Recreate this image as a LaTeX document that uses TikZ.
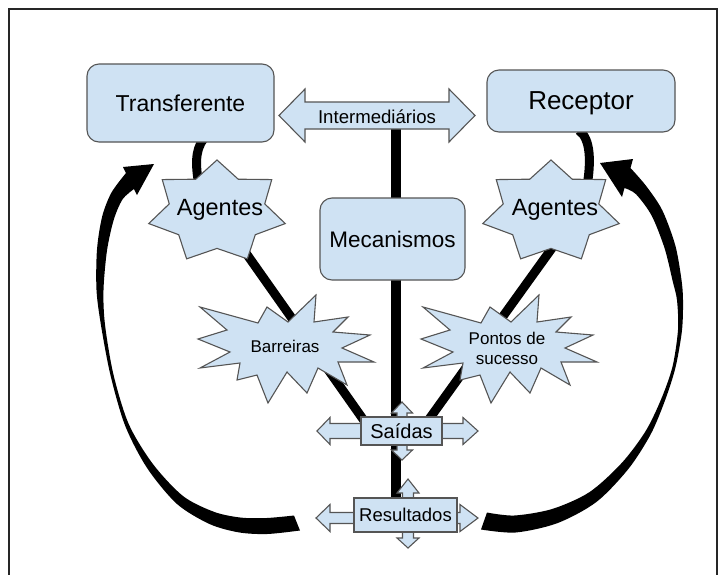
\documentclass[tikz,border=0pt]{standalone}
\usepackage{fontspec}
\setmainfont{Liberation Sans}
\usetikzlibrary{calc}
\pgfdeclarelayer{background}
\pgfsetlayers{background,main}
\definecolor{boxfill}{HTML}{CFE2F3}
\definecolor{boxline}{HTML}{555555}
\newcommand\fsz[1]{\fontsize{#1}{#1}\selectfont}
\begin{document}
\begin{tikzpicture}[x=1pt,y=-1pt,
  shapeline/.style={draw=boxline,line width=1.1pt,fill=boxfill,line join=miter},
  roundbox/.style={shapeline,rectangle,rounded corners=12pt,inner sep=0pt,text depth=0pt},
  flatbox/.style={shapeline,rectangle,inner sep=0pt,text depth=0pt},
  txt/.style={inner sep=0pt,text=black,text depth=0pt},
  txtml/.style={inner sep=0pt,text=black,align=center},
  bar/.style={line width=9pt,draw=black},
  band/.style={fill=black},
  agentstar/.pic={\draw[shapeline] (0,-52) -- (21.26,-32.8) -- (54.73,-32.42) -- (47.77,-8.1) -- (68.24,11.57) -- (38.31,22.7) -- (30.37,46.85) -- (0,36.4) -- (-30.37,46.85) -- (-38.31,22.7) -- (-68.24,11.57) -- (-47.77,-8.1) -- (-54.73,-32.42) -- (-21.26,-32.8) -- cycle;},
  burst/.pic={\draw[shapeline] (-85,-41) -- (-27,-25) -- (-18,-41) -- (3,-26) -- (31,-53) -- (29,-26) -- (63,-31) -- (48,-16) -- (85,-13) -- (57,0) -- (89,14) -- (53,14) -- (62,37) -- (33,20) -- (22,45) -- (2,24) -- (-17,55) -- (-28,27) -- (-48,32) -- (-45,15) -- (-85,20) -- (-55,4) -- (-87,-9) -- (-58,-18) -- cycle;},
]
\useasboundingbox (0,0) rectangle (724,574);
% frame
\draw[line width=1.4pt,black!85] (9,576) -- (9,9) -- (717,9) -- (717,576);

% rounded boxes
\node[roundbox,minimum width=187pt,minimum height=78pt,font=\fsz{23}] (trans) at (180.5,103) {Transferente};
\node[roundbox,minimum width=188pt,minimum height=62pt,font=\fsz{26}] (rec) at (581,101) {Receptor};
\node[roundbox,minimum width=145pt,minimum height=82pt,font=\fsz{22.5}] (mec) at (392.5,239) {Mecanismos};

% double block arrow
\draw[shapeline,shift={(377,115.5)}] (-98,0) -- (-72,-26.5) -- (-72,-13.5) -- (72,-13.5) -- (72,-26.5) -- (98,0) -- (72,26.5) -- (72,13.5) -- (-72,13.5) -- (-72,26.5) -- cycle;
\node[txt,font=\fsz{18.6}] (inter) at (377,117) {Intermediários};

% stars
\pic at (217,212) {agentstar};
\node[txt,font=\fsz{23.5}] (agL) at (220,207) {Agentes};
\pic at (551,212) {agentstar};
\node[txt,font=\fsz{23.5}] (agR) at (555,207) {Agentes};

% bursts
\pic at (285,348) {burst};
\node[txt,font=\fsz{17}] (barr) at (285,346) {Barreiras};
\pic at (508,348) {burst};
\node[txtml,font=\fsz{17}] (pont) at (507,348) {Pontos de\\[3pt]sucesso};

% four-way arrows with boxes
\draw[shapeline,shift={(402,431)}] (-85,0) -- (-72,-13.5) -- (-72,-7.5) -- (-5,-7.5) -- (-5,-18) -- (-10.5,-18) -- (0,-29) -- (10.5,-18) -- (5,-18) -- (5,-7.5) -- (61,-7.5) -- (61,-13.5) -- (76,0) -- (61,13.5) -- (61,7.5) -- (5,7.5) -- (5,19) -- (10.5,19) -- (0,29) -- (-10.5,19) -- (-5,19) -- (-5,7.5) -- (-72,7.5) -- (-72,13.5) -- cycle;
\node[flatbox,minimum width=81pt,minimum height=28pt,font=\fsz{20}] (sai) at (401.5,431) {Saídas};

\draw[shapeline,shift={(408,518)}] (-92,0) -- (-78,-13.5) -- (-78,-5.5) -- (-5.5,-5.5) -- (-5.5,-25) -- (-11,-25) -- (0,-39) -- (11,-25) -- (5.5,-25) -- (5.5,-5.5) -- (52,-5.5) -- (52,-13.5) -- (70,0) -- (52,13.5) -- (52,5.5) -- (5.5,5.5) -- (5.5,20) -- (11,20) -- (0,30) -- (-11,20) -- (-5.5,20) -- (-5.5,5.5) -- (-78,5.5) -- (-78,13.5) -- cycle;
\node[flatbox,minimum width=103pt,minimum height=34pt,font=\fsz{18.5}] (res) at (405.5,515) {Resultados};

% feedback arrows: tapered bands with a head
\fill[band] plot[smooth,tension=0.5] coordinates {(300,530.5) (267.3,534) (238.9,532.4) (209.5,524) (176.8,503.8) (147.1,468) (125.2,425.8) (110.5,375.3) (101,325.3) (96.5,290) (97,249.5) (102.2,216.4) (111.4,192.7) (126,173)}
  -- (123,167) -- (154,164) -- (137,195) -- (134,189)
  -- plot[smooth,tension=0.5] coordinates {(134,189) (122.6,199.3) (113.8,219.6) (107,250.5) (103.5,290) (105,324.7) (113.5,374.7) (128.8,424.2) (152.9,464) (183.2,496.2) (214.5,512) (241.1,517.6) (266.7,518) (294,515.5)} -- cycle;
\fill[band] plot[smooth,tension=0.5] coordinates {(481,529.5) (515.6,532.5) (557.5,523.1) (596.5,501.9) (628.4,468.9) (650.6,434.5) (664.9,400.7) (675.5,367.4) (682,330.2) (683,299.8) (681.4,279.2) (675.3,245.4) (662.3,210.3) (646,185.8) (630.5,168)}
  -- (633,159) -- (600,163) -- (622,197) -- (624.5,188)
  -- plot[smooth,tension=0.5] coordinates {(624.5,188) (636,194.2) (651.7,215.7) (664.7,248.6) (672.6,280.8) (677,300.2) (678,329.8) (672.5,366.6) (661.1,399.3) (645.4,431.5) (621.6,463.1) (589.5,492.1) (552.5,508.9) (514.4,515.5) (487,512.5)} -- cycle;

% connectors behind the shapes
\begin{pgfonlayer}{background}
\fill[white] (0,0) rectangle (724,574);
\draw[bar,line width=9.5pt] ($(inter)+(19,0)$) -- ($(res.north)+(-9.5,2)$);
\draw[bar] ($(agL)+(-3,5)$) -- ($(sai)+(-36.5,-9)$);
\draw[bar] ($(agR)+(23,5)$) -- ($(sai)+(25.5,-9)$);
\draw[bar] ($(trans.south)+(23.5,-4)$) .. controls +(-10,12) and +(-3,-18) .. ($(agL)+(-21,-21)$);
\draw[bar] ($(rec.south)+(-2,-2)$) .. controls +(12,8) and +(4,-23) .. ($(agR)+(32,-21)$);
\end{pgfonlayer}
\end{tikzpicture}
\end{document}
